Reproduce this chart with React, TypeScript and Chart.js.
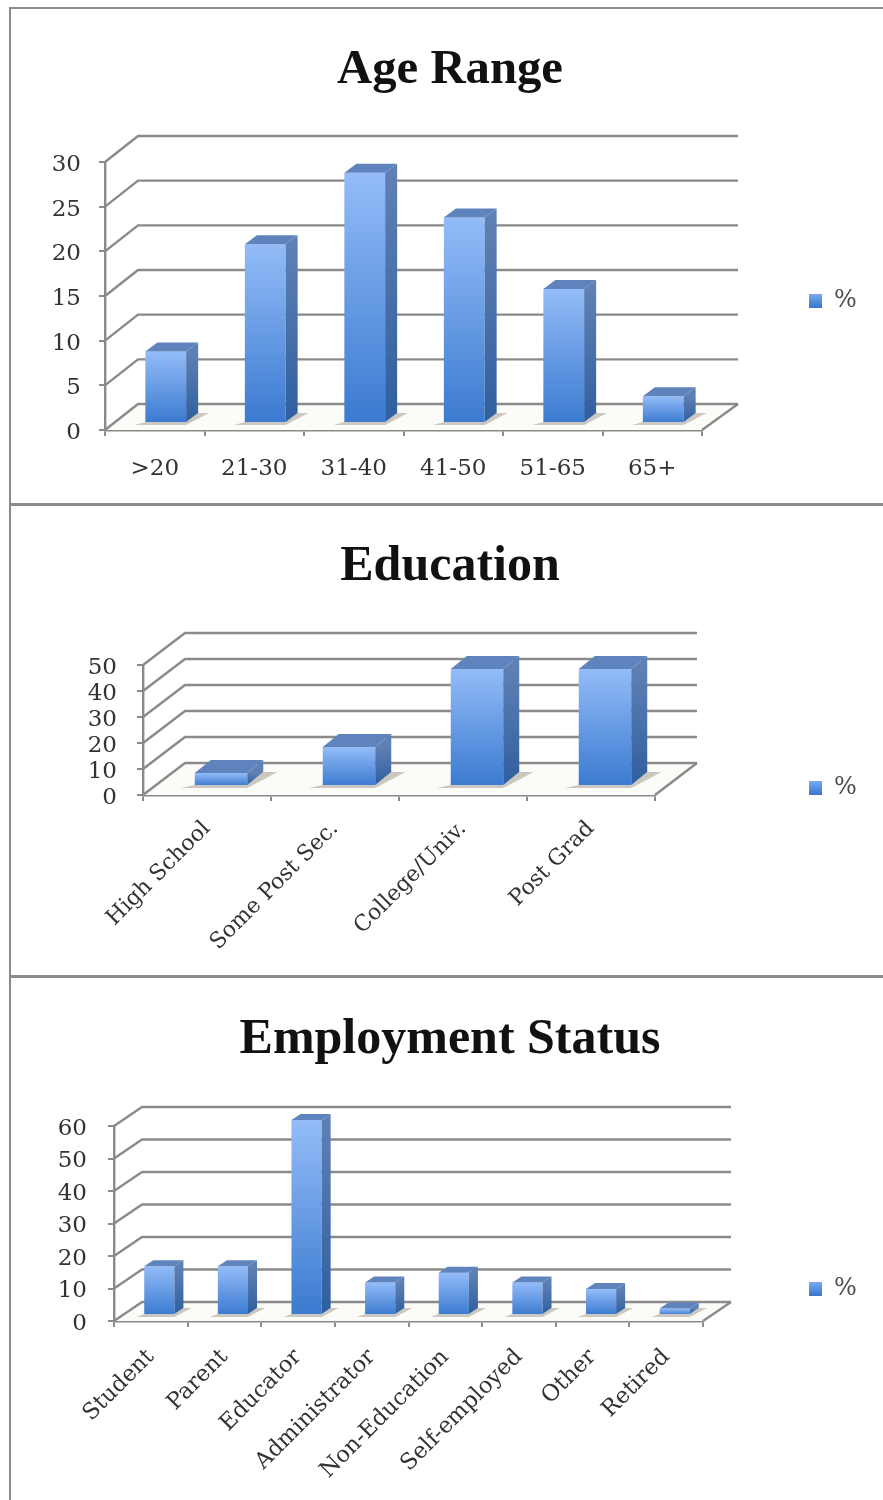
import React, { useEffect, useRef } from "react";
import { Chart, registerables } from "chart.js";

Chart.register(...registerables);

const ageCategories = [">20", "21-30", "31-40", "41-50", "51-65", "65+"];
const ageValues = [8, 20, 28, 23, 15, 3];
const eduCategories = ["High School", "Some Post Sec.", "College/Univ.", "Post Grad"];
const eduValues = [5, 15, 45, 45];
const empCategories = ["Student", "Parent", "Educator", "Administrator", "Non-Education", "Self-employed", "Other", "Retired"];
const empValues = [15, 15, 60, 10, 13, 10, 8, 2];
const seriesName = "%";

const TITLE_FONT = "'Liberation Serif', serif";
const FONT = "'DejaVu Serif', serif";
const GRID = "#8a8a8a";
const LEGEND_W = 40;

type Geo = {
  title: string; titleSize: number; titleY: number; height: number;
  left: number; right: number; top: number; bottom: number; xHeight: number;
  wallX: number; wallY: number; rightExt: number; offX: number; offY: number; sideX: number; sideY: number;
  yMax: number; yStep: number; rotate: number; tickFont: number; catFont: number;
  yPad: number; xPad: number; legendY: number;
};

function makePlugin(g: Geo) {
  return {
    id: "depth3d",
    afterLayout(chart: any) {
      const t = chart.titleBlock;
      if (t) {
        t.left = 450 - 400;
        t.right = 450 + 400;
        t.top = g.titleY - (g.titleSize * 1.2) / 2;
      }
      const l = chart.legend;
      if (l) {
        l.left = 809;
        l.right = 860;
        l.top = g.legendY - 6;
        l.bottom = g.legendY + 20;
      }
    },
    beforeDatasetsDraw(chart: any) {
      const { ctx, scales } = chart;
      const a = chart.chartArea;
      const backRight = a.right + g.wallX + g.rightExt;
      ctx.save();
      ctx.fillStyle = "#fbfbf8";
      ctx.beginPath();
      ctx.moveTo(a.left, a.bottom);
      ctx.lineTo(a.left + g.wallX, a.bottom - g.wallY);
      ctx.lineTo(backRight, a.bottom - g.wallY);
      ctx.lineTo(a.right, a.bottom);
      ctx.closePath();
      ctx.fill();
      ctx.strokeStyle = GRID;
      ctx.lineWidth = 2.4;
      ctx.lineJoin = "round";
      scales.y.ticks.forEach((_: any, i: number) => {
        const y = scales.y.getPixelForTick(i);
        ctx.beginPath();
        ctx.moveTo(a.left, y);
        ctx.lineTo(a.left + g.wallX, y - g.wallY);
        ctx.lineTo(backRight, y - g.wallY);
        ctx.stroke();
      });
      ctx.beginPath();
      ctx.moveTo(a.right, a.bottom);
      ctx.lineTo(backRight, a.bottom - g.wallY);
      ctx.stroke();
      ctx.restore();
    },
    beforeDatasetDraw(chart: any, args: any) {
      const { ctx } = chart;
      const meta = chart.getDatasetMeta(args.index);
      ctx.save();
      ctx.fillStyle = "rgba(135,122,108,0.4)";
      meta.data.forEach((el: any) => {
        const x0 = el.x - el.width / 2 + g.offX;
        const x1 = el.x + el.width / 2 + g.offX;
        const b = el.base - g.offY;
        ctx.beginPath();
        ctx.moveTo(x0 - g.sideX * 0.9, b + 3);
        ctx.lineTo(x1, b + 3);
        ctx.lineTo(x1 + g.sideX * 1.9, b - g.sideY);
        ctx.lineTo(x1 + g.sideX, b - g.sideY);
        ctx.lineTo(x1, b);
        ctx.lineTo(x0, b);
        ctx.closePath();
        ctx.fill();
      });
      ctx.restore();
      ctx.save();
      ctx.translate(g.offX, -g.offY);
    },
    afterDatasetDraw(chart: any, args: any) {
      const { ctx } = chart;
      const meta = chart.getDatasetMeta(args.index);
      meta.data.forEach((el: any) => {
        const x1 = el.x + el.width / 2;
        const x0 = el.x - el.width / 2;
        const top = el.y;
        const base = el.base;
        const side = ctx.createLinearGradient(0, top, 0, base);
        side.addColorStop(0, "#5f80b4");
        side.addColorStop(1, "#2f5f9f");
        ctx.fillStyle = side;
        ctx.beginPath();
        ctx.moveTo(x1, top);
        ctx.lineTo(x1 + g.sideX, top - g.sideY);
        ctx.lineTo(x1 + g.sideX, base - g.sideY);
        ctx.lineTo(x1, base);
        ctx.closePath();
        ctx.fill();
        ctx.fillStyle = "#5f83bd";
        ctx.beginPath();
        ctx.moveTo(x0, top);
        ctx.lineTo(x0 + g.sideX, top - g.sideY);
        ctx.lineTo(x1 + g.sideX, top - g.sideY);
        ctx.lineTo(x1, top);
        ctx.closePath();
        ctx.fill();
      });
      ctx.restore();
    },
  };
}

function barGradient(c: any) {
  if (c.dataIndex === undefined || !c.chart.chartArea) return "#6a9fe8";
  const y = c.chart.scales.y;
  const top = y.getPixelForValue(c.raw);
  const grad = c.chart.ctx.createLinearGradient(0, top, 0, y.getPixelForValue(0));
  grad.addColorStop(0, "#93bcf8");
  grad.addColorStop(1, "#3b7ad0");
  return grad;
}

function Panel({ categories, values, geo, top }: { categories: string[]; values: number[]; geo: Geo; top: number }) {
  const ref = useRef<HTMLCanvasElement | null>(null);
  useEffect(() => {
    const g = geo;
    const chart = new Chart(ref.current as HTMLCanvasElement, {
      type: "bar",
      data: {
        labels: categories,
        datasets: [{
          label: seriesName,
          data: values,
          backgroundColor: barGradient as any,
          borderWidth: 0,
          barPercentage: 0.41,
          categoryPercentage: 1,
          clip: false as any,
        }],
      },
      options: {
        responsive: false,
        animation: false,
        events: [],
        devicePixelRatio: 1,
        layout: {
          autoPadding: false,
          padding: { left: 0, top: 0, right: 883 - g.right - LEGEND_W, bottom: g.height - g.bottom - g.xHeight },
        },
        plugins: {
          tooltip: { enabled: false },
          title: {
            display: true,
            text: g.title,
            color: "#111111",
            font: { family: TITLE_FONT, size: g.titleSize, weight: "bold", lineHeight: 1.2 },
            padding: { top: 0, bottom: g.top - g.titleSize * 1.2 },
          },
          legend: {
            display: true,
            position: "right",
            align: "start",
            maxWidth: LEGEND_W,
            labels: {
              boxWidth: 13,
              boxHeight: 14,
              padding: 0,
              color: "#4d4d4d",
              font: { family: FONT, size: 24 },
              generateLabels(chart: any) {
                const grad = chart.ctx.createLinearGradient(0, g.legendY - 6, 0, g.legendY + 12);
                grad.addColorStop(0, "#93bcf8");
                grad.addColorStop(1, "#3b7ad0");
                return [{ text: seriesName, fillStyle: grad, strokeStyle: "rgba(0,0,0,0)", lineWidth: 0, datasetIndex: 0, fontColor: "#4d4d4d" }];
              },
            },
          },
        },
        scales: {
          x: {
            offset: true,
            afterFit(s: any) { s.height = g.xHeight; },
            border: { display: true, color: GRID, width: 2.4 },
            grid: { display: true, drawOnChartArea: false, drawTicks: true, tickLength: 6, color: GRID, lineWidth: 2, offset: true },
            ticks: {
              autoSkip: false,
              color: "#333333",
              padding: g.xPad,
              maxRotation: g.rotate,
              minRotation: g.rotate,
              font: { family: FONT, size: g.catFont },
            },
          },
          y: {
            min: 0,
            max: g.yMax,
            afterFit(s: any) { s.width = g.left; },
            border: { display: true, color: GRID, width: 2.4 },
            grid: { display: true, drawOnChartArea: false, drawTicks: true, tickLength: 6, color: GRID, lineWidth: 2 },
            ticks: {
              autoSkip: false,
              stepSize: g.yStep,
              color: "#333333",
              padding: g.yPad,
              labelOffset: 3,
              font: { family: FONT, size: g.tickFont },
            },
          },
        },
      },
      plugins: [makePlugin(g) as any],
    } as any);
    return () => chart.destroy();
  }, []);
  return (
    <canvas
      ref={ref}
      width={883}
      height={geo.height}
      style={{ position: "absolute", left: 0, top, width: 883, height: geo.height, filter: "blur(0.5px)" }}
    />
  );
}

const ageGeo: Geo = {
  title: "Age Range", titleSize: 48.7, titleY: 62, height: 495,
  left: 105, right: 702, top: 154, bottom: 422, xHeight: 60,
  wallX: 33, wallY: 26, rightExt: 3, offX: 11, offY: 7, sideX: 12, sideY: 9,
  yMax: 30, yStep: 5, rotate: 0, tickFont: 23, catFont: 23, yPad: 18, xPad: 19, legendY: 287,
};
const eduGeo: Geo = {
  title: "Education", titleSize: 50, titleY: 63, height: 472,
  left: 143, right: 655, top: 161, bottom: 291, xHeight: 170,
  wallX: 42, wallY: 32, rightExt: 0, offX: 14, offY: 9, sideX: 16, sideY: 13,
  yMax: 50, yStep: 10, rotate: 45, tickFont: 23, catFont: 22, yPad: 20, xPad: 15, legendY: 278,
};
const empGeo: Geo = {
  title: "Employment Status", titleSize: 50, titleY: 64, height: 524,
  left: 114, right: 703, top: 150, bottom: 345, xHeight: 170,
  wallX: 28, wallY: 19, rightExt: 0, offX: 8.5, offY: 6, sideX: 9, sideY: 6,
  yMax: 60, yStep: 10, rotate: 45, tickFont: 23, catFont: 22.5, yPad: 21, xPad: 17, legendY: 307,
};

const lineStyle = (l: number, t: number, w: number, h: number): React.CSSProperties => ({
  position: "absolute", left: l, top: t, width: w, height: h, background: "#8a8a8a",
});

export default function App() {
  return (
    <div style={{ position: "absolute", left: 0, top: 0, width: 883, height: 1500, background: "#ffffff", overflow: "hidden" }}>
      <Panel categories={ageCategories} values={ageValues} geo={ageGeo} top={8} />
      <Panel categories={eduCategories} values={eduValues} geo={eduGeo} top={504} />
      <Panel categories={empCategories} values={empValues} geo={empGeo} top={976} />
      <div style={lineStyle(9, 7, 874, 2)} />
      <div style={lineStyle(9, 7, 2, 1493)} />
      <div style={lineStyle(9, 503, 874, 3)} />
      <div style={lineStyle(9, 975, 874, 3)} />
    </div>
  );
}
